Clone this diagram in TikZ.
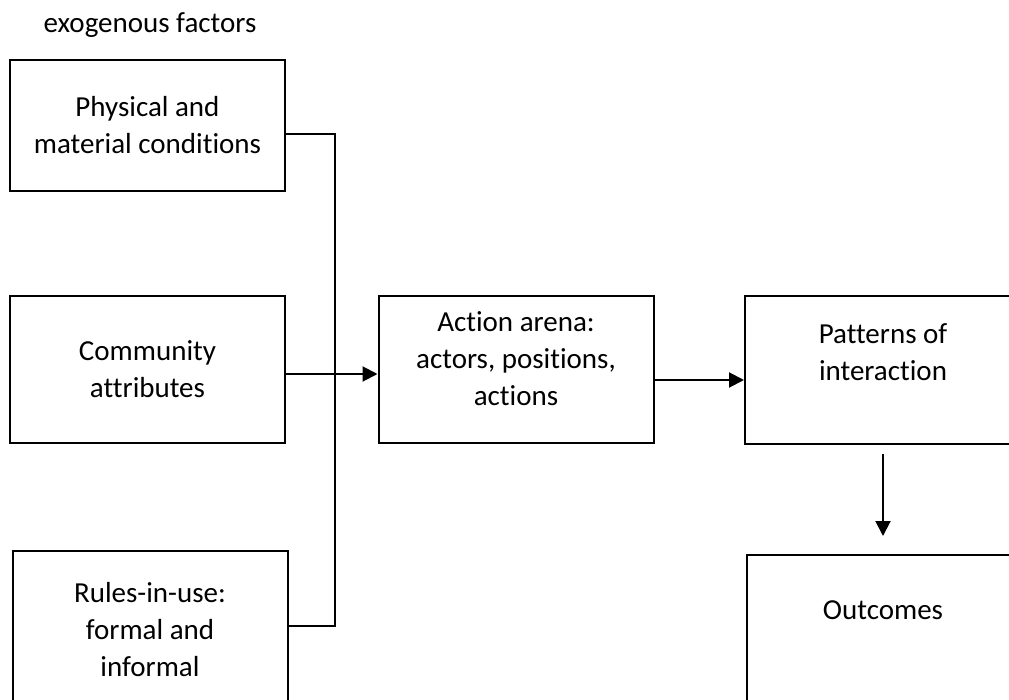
\documentclass[tikz,border=0pt]{standalone}
\usepackage{fontspec}
\setmainfont[Ligatures=NoCommon]{Carlito}
\usetikzlibrary{arrows.meta}

\begin{document}
\begin{tikzpicture}[x=1pt,y=-1pt,
  box/.style={draw,line width=2pt,minimum width=275pt,minimum height=147pt,
    inner sep=0pt,align=center,font=\fontsize{29}{37}\selectfont},
  conn/.style={line width=2pt},
  arr/.style={conn,-{Triangle[length=15pt,width=15pt]}}]
\useasboundingbox (0,0) rectangle (1009,700);
\clip (0,0) rectangle (1009,700);

% left column: exogenous factors
\node[font=\fontsize{29}{37}\selectfont] (exo) at (150,25) {exogenous factors};
\node[box,minimum height=131pt] (phys) at (147.5,125.5) {Physical and\\material conditions};
\node[box] (comm) at (147.5,369.5) {Community\\attributes};
\node[box,minimum height=158pt] (rules) at (150,630) {Rules-in-use:\\formal and\\informal};

% middle and right
\node[box] (arena) at (516,369.5) [text depth=21pt] {Action arena:\\actors, positions,\\actions};
\node[box,minimum width=276pt] (pat) at (883,370) [text depth=35pt] {Patterns of\\interaction};
\node[box,minimum width=272pt,minimum height=165pt] (out) at (883,637.5) [text depth=54pt] {Outcomes};

% connectors
\coordinate (bustop) at (335,134);
\coordinate (busbot) at (335,626);
\coordinate (inrow) at (335,374);
\coordinate (outrow) at (700,380);
\draw[conn] (phys.east |- bustop) -- (bustop) -- (busbot) -- (rules.east |- busbot);
\draw[arr] (comm.east |- inrow) -- (arena.west |- inrow);
\draw[arr] (arena.east |- outrow) -- (pat.west |- outrow);
\draw[arr] ([yshift=-9pt]pat.south) -- ([yshift=18pt]out.north);
\end{tikzpicture}
\end{document}
